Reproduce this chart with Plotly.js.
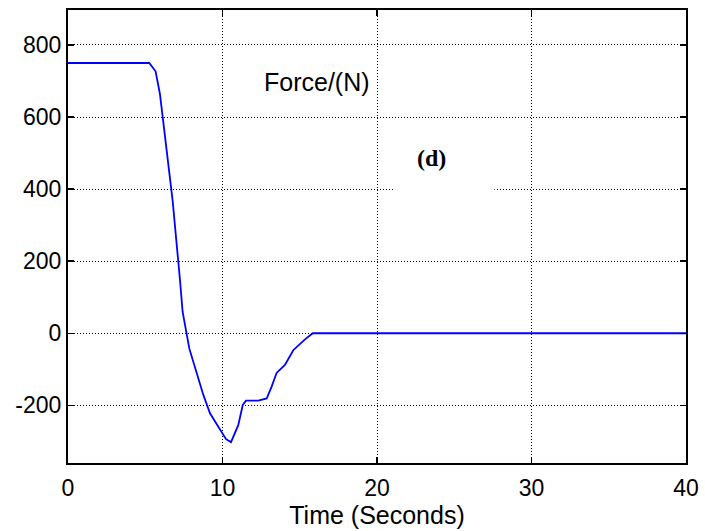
<!DOCTYPE html>
<html>
<head>
<meta charset="utf-8">
<script src="https://cdn.plot.ly/plotly-3.0.1.min.js"></script>
<style>html,body{margin:0;padding:0;background:#fff;}#chart{width:705px;height:531px;}</style>
</head>
<body>
<div id="chart"></div>
<script>
const timeSec = [0, 5.26, 5.67, 5.95, 6.13, 6.77, 7.25, 7.42, 7.85, 8.43, 8.76, 9.19, 9.56, 9.84, 10.23, 10.55, 11.02, 11.31, 11.52, 12.32, 12.86, 13.18, 13.5, 14.04, 14.58, 15.34, 15.84, 40];
const forceN = [750, 750, 727, 664, 600, 369, 147, 59, -42, -121, -171, -222, -248, -264, -294, -302, -255, -199, -187, -187, -181, -148, -110, -88, -47, -17, 0, 0];
const xTicks = [0, 10, 20, 30, 40];
const yTicks = [-200, 0, 200, 400, 600, 800];

const trace = {
  x: timeSec, y: forceN, type: 'scatter', mode: 'lines',
  line: {color: '#0000ff', width: 1.8}, hoverinfo: 'skip'
};

const sans = 'Liberation Sans, Arial, sans-serif';
const axisCommon = {
  showline: true, linecolor: '#000', linewidth: 2, mirror: 'ticks',
  ticks: 'inside', ticklen: 6, tickcolor: '#000', tickwidth: 1.5,
  showgrid: true, gridcolor: '#000', griddash: '1px,2px', gridwidth: 1,
  zeroline: false, tickfont: {family: sans, size: 23, color: '#000'}
};

const layout = {
  width: 705, height: 531,
  margin: {l: 68, r: 19, t: 10, b: 68},
  paper_bgcolor: '#fff', plot_bgcolor: '#fff',
  showlegend: false,
  xaxis: Object.assign({}, axisCommon, {
    range: [0, 40], tickvals: xTicks, ticktext: xTicks.map(String),
    ticklabelstandoff: 3,
    title: {text: 'Time (Seconds)', standoff: 0, font: {family: sans, size: 25, color: '#000'}}
  }),
  yaxis: Object.assign({}, axisCommon, {
    range: [-360, 897], tickvals: yTicks, ticktext: yTicks.map(String),
    ticklabelstandoff: 0
  }),
  shapes: [{
    type: 'rect', xref: 'x', yref: 'y', x0: 21.05, x1: 27.6, y0: 390, y1: 410,
    fillcolor: '#fff', line: {width: 0}, layer: 'between'
  }],
  annotations: [
    {x: 16.12, y: 698, xref: 'x', yref: 'y', text: 'Force/(N)', showarrow: false,
     font: {family: sans, size: 25, color: '#000'}},
    {x: 23.5, y: 485, xref: 'x', yref: 'y', text: '<b>(d)</b>', showarrow: false,
     font: {family: 'Liberation Serif, Times New Roman, serif', size: 24, color: '#000'}}
  ]
};

Plotly.newPlot('chart', [trace], layout, {displayModeBar: false, staticPlot: true});
</script>
</body>
</html>
